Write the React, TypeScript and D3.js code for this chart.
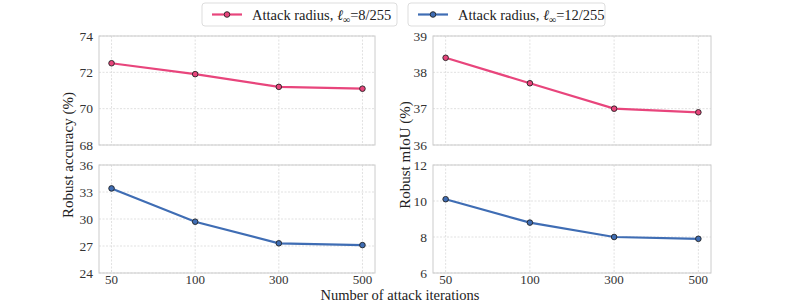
import React, { useRef, useEffect } from 'react';
import * as d3 from 'd3';

const iterations = ['50', '100', '300', '500'];
const accEps8 = [72.5, 71.9, 71.2, 71.1];
const accEps12 = [33.4, 29.7, 27.3, 27.1];
const miouEps8 = [38.4, 37.7, 37.0, 36.9];
const miouEps12 = [10.1, 8.8, 8.0, 7.9];
const accTopTicks = [68, 70, 72, 74];
const accBottomTicks = [24, 27, 30, 33, 36];
const miouTopTicks = [36, 37, 38, 39];
const miouBottomTicks = [6, 8, 10, 12];

const PINK = '#e8457c';
const BLUE = '#3f6db4';
const FONT = '"Liberation Serif", "Times New Roman", serif';

const App = () => {
  const svgRef = useRef<SVGSVGElement>(null);

  useEffect(() => {
    const svg = d3.select(svgRef.current);
    svg.selectAll('*').remove();

    const panels = [
      { x0: 99, x1: 375, y0: 36, y1: 145, data: accEps8, ticks: accTopTicks, color: PINK, showX: false },
      { x0: 99, x1: 375, y0: 165, y1: 273, data: accEps12, ticks: accBottomTicks, color: BLUE, showX: true },
      { x0: 433, x1: 711, y0: 36, y1: 145, data: miouEps8, ticks: miouTopTicks, color: PINK, showX: false },
      { x0: 433, x1: 711, y0: 165, y1: 273, data: miouEps12, ticks: miouBottomTicks, color: BLUE, showX: true },
    ];

    panels.forEach(p => {
      const x = d3.scalePoint<string>().domain(iterations).range([p.x0, p.x1]).padding(0.15);
      const y = d3.scaleLinear()
        .domain([p.ticks[0], p.ticks[p.ticks.length - 1]])
        .range([p.y1, p.y0]);
      const g = svg.append('g');

      // grid
      g.selectAll('.gy').data(p.ticks).enter().append('line')
        .attr('x1', p.x0).attr('x2', p.x1)
        .attr('y1', d => y(d)).attr('y2', d => y(d))
        .attr('stroke', '#d9d9d9').attr('stroke-width', 0.8).attr('stroke-dasharray', '2,1.5');
      g.selectAll('.gx').data(iterations).enter().append('line')
        .attr('x1', d => x(d)!).attr('x2', d => x(d)!)
        .attr('y1', p.y0).attr('y2', p.y1)
        .attr('stroke', '#d9d9d9').attr('stroke-width', 0.8).attr('stroke-dasharray', '2,1.5');

      // frame
      g.append('rect')
        .attr('x', p.x0).attr('y', p.y0)
        .attr('width', p.x1 - p.x0).attr('height', p.y1 - p.y0)
        .attr('fill', 'none').attr('stroke', '#cccccc').attr('stroke-width', 1);

      // y ticks
      g.selectAll('.ty').data(p.ticks).enter().append('text')
        .attr('x', p.x0 - 6).attr('y', d => y(d))
        .attr('dy', '0.35em')
        .attr('text-anchor', 'end')
        .attr('font-family', FONT)
        .attr('font-size', 13.5)
        .attr('fill', '#333')
        .text(d => d);

      if (p.showX) {
        g.selectAll('.tx').data(iterations).enter().append('text')
          .attr('x', d => x(d)!).attr('y', p.y1 + 11)
          .attr('text-anchor', 'middle')
          .attr('font-family', FONT)
          .attr('font-size', 13)
          .attr('fill', '#333')
          .text(d => d);
      }

      const line = d3.line<number>()
        .x((d, i) => x(iterations[i])!)
        .y(d => y(d));

      g.append('path')
        .datum(p.data)
        .attr('fill', 'none')
        .attr('stroke', p.color)
        .attr('stroke-width', 2.2)
        .attr('d', line);

      g.selectAll('circle').data(p.data).enter().append('circle')
        .attr('cx', (d, i) => x(iterations[i])!)
        .attr('cy', d => y(d))
        .attr('r', 2.8)
        .attr('fill', p.color)
        .attr('stroke', '#222')
        .attr('stroke-width', 0.9);
    });

    // axis labels
    svg.append('text')
      .attr('transform', 'translate(73,155) rotate(-90)')
      .attr('text-anchor', 'middle')
      .attr('font-family', FONT)
      .attr('font-size', 15)
      .attr('fill', '#222')
      .text('Robust accuracy (%)');
    svg.append('text')
      .attr('transform', 'translate(410,155) rotate(-90)')
      .attr('text-anchor', 'middle')
      .attr('font-family', FONT)
      .attr('font-size', 15)
      .attr('fill', '#222')
      .text('Robust mIoU (%)');
    svg.append('text')
      .attr('x', 400).attr('y', 300)
      .attr('text-anchor', 'middle')
      .attr('font-family', FONT)
      .attr('font-size', 14.5)
      .attr('fill', '#222')
      .text('Number of attack iterations');

    // legend
    const legends = [
      { x: 202, w: 195, color: PINK, eps: '8/255' },
      { x: 408, w: 197, color: BLUE, eps: '12/255' },
    ];
    legends.forEach(l => {
      const g = svg.append('g');
      g.append('rect')
        .attr('x', l.x).attr('y', 3)
        .attr('width', l.w).attr('height', 23)
        .attr('rx', 3)
        .attr('fill', 'white').attr('stroke', '#dddddd');
      g.append('line')
        .attr('x1', l.x + 10).attr('x2', l.x + 40)
        .attr('y1', 14.5).attr('y2', 14.5)
        .attr('stroke', l.color).attr('stroke-width', 2.2);
      g.append('circle')
        .attr('cx', l.x + 25).attr('cy', 14.5).attr('r', 2.8)
        .attr('fill', l.color).attr('stroke', '#222').attr('stroke-width', 0.9);
      const t = g.append('text')
        .attr('x', l.x + 50).attr('y', 19.5)
        .attr('font-family', FONT)
        .attr('font-size', 14.5)
        .attr('fill', '#222');
      t.append('tspan').text('Attack radius, ');
      t.append('tspan').attr('font-style', 'italic').text('ℓ');
      t.append('tspan').attr('font-size', 10).attr('dy', 3).text('∞');
      t.append('tspan').attr('dy', -3).text('=' + l.eps);
    });
  }, []);

  return <svg ref={svgRef} width={789} height={307} style={{ position: 'absolute', left: 0, top: 0 }} />;
};

export default App;
